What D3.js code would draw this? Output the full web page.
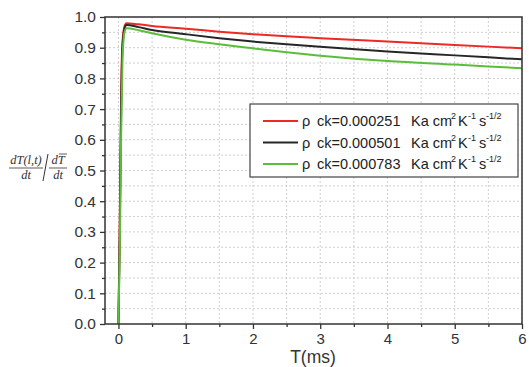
<!DOCTYPE html>
<html>
<head>
<meta charset="utf-8">
<script src="https://cdn.jsdelivr.net/npm/d3@7"></script>
<style>
  body { margin: 0; background: #fff; }
  svg { display: block; }
</style>
</head>
<body>
<div id="grafica"></div>
<script>
// valores
const time = [0, 0.02, 0.04, 0.06, 0.09, 0.12, 0.3, 0.5, 1, 1.5, 2, 2.5, 3, 4, 5, 6]
const redValues = [0, 0.35, 0.75, 0.92, 0.97, 0.98, 0.976, 0.971, 0.962, 0.952, 0.944, 0.937, 0.931, 0.920, 0.909, 0.898]
const blackValues = [0, 0.3, 0.7, 0.9, 0.962, 0.974, 0.967, 0.958, 0.944, 0.931, 0.920, 0.911, 0.903, 0.888, 0.875, 0.862]
const greenValues = [0, 0.25, 0.62, 0.86, 0.95, 0.963, 0.957, 0.947, 0.926, 0.911, 0.898, 0.885, 0.874, 0.857, 0.845, 0.833]
const legendLabels = ["0.000251", "0.000501", "0.000783"]
const colors = ["#ec2a23", "#262626", "#5cbd3a"]
const xTicks = [0, 1, 2, 3, 4, 5, 6]
const yTicks = [0, 0.1, 0.2, 0.3, 0.4, 0.5, 0.6, 0.7, 0.8, 0.9, 1.0]

const series = [redValues, blackValues, greenValues]

let width = 529
let height = 367
let plotLeft = 105, plotRight = 522, plotTop = 17, plotBottom = 324

const xScale = d3.scaleLinear().domain([-0.2, 6]).range([plotLeft, plotRight])
const yScale = d3.scaleLinear().domain([0, 1]).range([plotBottom, plotTop])

const svg = d3.select('#grafica')
  .append("svg")
  .attr("width", width)
  .attr("height", height)
  .style("font-family", "Arial, 'Liberation Sans', sans-serif")

// rejilla punteada (mayor y menor)
const xGrid = d3.range(0, 6.01, 0.5)
const yGrid = d3.range(0.05, 1.0, 0.05)

svg.append("g")
  .selectAll("line")
  .data(xGrid)
  .enter()
  .append("line")
  .attr("x1", d => xScale(d)).attr("x2", d => xScale(d))
  .attr("y1", plotTop).attr("y2", plotBottom)
  .attr("stroke", "#cfcfcf")
  .attr("stroke-dasharray", "2,2")

svg.append("g")
  .selectAll("line")
  .data(yGrid)
  .enter()
  .append("line")
  .attr("x1", plotLeft).attr("x2", plotRight)
  .attr("y1", d => yScale(d)).attr("y2", d => yScale(d))
  .attr("stroke", "#cfcfcf")
  .attr("stroke-dasharray", "2,2")

// curvas
const line = d3.line()
  .x((d, i) => xScale(time[i]))
  .y(d => yScale(d))
  .curve(d3.curveMonotoneX)

svg.append("g")
  .selectAll("path")
  .data(series)
  .enter()
  .append("path")
  .attr("d", d => line(d))
  .attr("fill", "none")
  .attr("stroke", (d, i) => colors[i])
  .attr("stroke-width", 2)

// ejes
const xAxis = d3.axisBottom(xScale).tickValues(xTicks).tickFormat(d3.format("d")).tickSize(5).tickSizeOuter(0)
const xMinor = d3.axisBottom(xScale).tickValues(d3.range(0.5, 6, 1)).tickFormat("").tickSize(3).tickSizeOuter(0)
const yAxis = d3.axisLeft(yScale).tickValues(yTicks).tickFormat(d3.format(".1f")).tickSize(5).tickSizeOuter(0)
const yMinor = d3.axisLeft(yScale).tickValues(d3.range(0.05, 1, 0.1)).tickFormat("").tickSize(3).tickSizeOuter(0)

const gx = svg.append("g").attr("transform", "translate(0," + plotBottom + ")").call(xAxis)
svg.append("g").attr("transform", "translate(0," + plotBottom + ")").call(xMinor)
const gy = svg.append("g").attr("transform", "translate(" + plotLeft + ",0)").call(yAxis)
svg.append("g").attr("transform", "translate(" + plotLeft + ",0)").call(yMinor)

svg.selectAll(".domain").remove()
svg.selectAll(".tick line").attr("stroke", "#333").attr("stroke-width", 1.3)
gx.selectAll("text").attr("font-size", 15).attr("fill", "#333").attr("dy", "0.8em")
gy.selectAll("text").attr("font-size", 15.5).attr("fill", "#333").attr("x", -9)

// marco
svg.append("rect")
  .attr("x", plotLeft).attr("y", plotTop)
  .attr("width", plotRight - plotLeft).attr("height", plotBottom - plotTop)
  .attr("fill", "none")
  .attr("stroke", "#333")
  .attr("stroke-width", 1.5)

// etiqueta eje x
svg.append("text")
  .attr("x", 313).attr("y", 363)
  .attr("text-anchor", "middle")
  .attr("font-size", 17.5)
  .attr("fill", "#333")
  .text("T(ms)")

// etiqueta eje y (fraccion)
const ylab = svg.append("g")
  .style("font-family", "'Liberation Serif', 'DejaVu Serif', serif")
  .style("font-style", "italic")
  .attr("font-size", 12.5)
  .attr("fill", "#333")
ylab.append("text").attr("x", 26).attr("y", 164).attr("text-anchor", "middle").text("dT(l,t)")
ylab.append("line").attr("x1", 9).attr("x2", 43).attr("y1", 168).attr("y2", 168).attr("stroke", "#333").attr("stroke-width", 0.8)
ylab.append("text").attr("x", 26).attr("y", 179).attr("text-anchor", "middle").text("dt")
ylab.append("line").attr("x1", 48).attr("x2", 43).attr("y1", 154).attr("y2", 181).attr("stroke", "#333").attr("stroke-width", 1)
ylab.append("text").attr("x", 58).attr("y", 164).attr("text-anchor", "middle").text("dT")
ylab.append("line").attr("x1", 59).attr("x2", 67).attr("y1", 154).attr("y2", 154).attr("stroke", "#333").attr("stroke-width", 0.8)
ylab.append("line").attr("x1", 49).attr("x2", 67).attr("y1", 168).attr("y2", 168).attr("stroke", "#333").attr("stroke-width", 0.8)
ylab.append("text").attr("x", 58).attr("y", 179).attr("text-anchor", "middle").text("dt")

// leyenda
const legend = svg.append("g")
legend.append("rect")
  .attr("x", 250).attr("y", 104)
  .attr("width", 268).attr("height", 73)
  .attr("fill", "#fff")
  .attr("stroke", "#444")
  .attr("stroke-width", 1.2)

const rows = legend.selectAll("g.row")
  .data(legendLabels)
  .enter()
  .append("g")
  .attr("class", "row")
  .attr("transform", (d, i) => "translate(0," + (121 + i * 21.5) + ")")

rows.append("line")
  .attr("x1", 263).attr("x2", 298)
  .attr("y1", 0).attr("y2", 0)
  .attr("stroke", (d, i) => colors[i])
  .attr("stroke-width", 2)

const rowText = rows.append("text")
  .attr("y", 5)
  .attr("font-size", 14.5)
  .attr("fill", "#222")
rowText.append("tspan").attr("x", 302).text("ρ")
rowText.append("tspan").attr("x", 317).text(d => "ck=" + d)
rowText.append("tspan").attr("x", 411).text("Ka cm")
rowText.append("tspan").attr("x", 451).attr("dy", -7).attr("font-size", 9).text("2")
rowText.append("tspan").attr("x", 458).attr("dy", 7).text("K")
rowText.append("tspan").attr("x", 468).attr("dy", -7).attr("font-size", 9).text("-1")
rowText.append("tspan").attr("x", 479).attr("dy", 7).text("s")
rowText.append("tspan").attr("x", 486).attr("dy", -7).attr("font-size", 9).text("-1/2")
</script>
</body>
</html>
